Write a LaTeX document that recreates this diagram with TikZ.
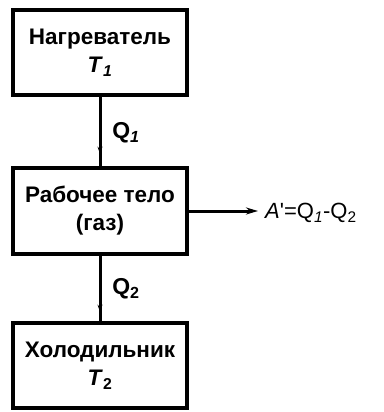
\documentclass[tikz,border=0pt]{standalone}
\usepackage{fontspec}
\setmainfont{Liberation Sans}
\usetikzlibrary{arrows.meta,decorations.markings}

\begin{document}
\begin{tikzpicture}[x=1pt,y=-1pt,
  block/.style={draw,line width=3.6pt,minimum width=174pt,minimum height=85pt,
    inner sep=0pt,align=center,font=\fontsize{22.5}{28}\selectfont\bfseries},
  flow/.style={line width=3pt,postaction={decorate},
    decoration={markings,mark=at position #1 with {\arrow{Stealth[length=7pt,width=5pt]}}}},
  lbl/.style={font=\fontsize{23}{26}\selectfont\bfseries},
  result/.style={font=\fontsize{22}{26}\selectfont,anchor=west,inner sep=0pt}]
\useasboundingbox (0,0) rectangle (383,412);

% reservoirs and working body
\node[block] (heater) at (100,52.5) {Нагреватель\\\textit{T}\textsubscript{\textit{1}}};
\node[block,minimum height=86pt] (body) at (100,211) {Рабочее тело\\(газ)};
\node[block] (cooler) at (100,365.5) {Холодильник\\\textit{T}\textsubscript{2}};

% heat flows
\draw[flow=0.82] (heater.south) -- (body.north);
\draw[flow=0.855] (body.south) -- (cooler.north);
\node[lbl] (q1) at (126,133) {Q\textsubscript{\textit{1}}};
\node[lbl] (q2) at (126,289) {Q\textsubscript{2}};

% work output
\coordinate (out) at (258,211);
\draw[line width=3pt,-{Stealth[length=12pt,width=7pt]}] (body.east) -- (out);
\node[result] (work) at (265,213) {\textit{A}\textquotesingle{}=Q\textsubscript{\textit{1}}-Q\textsubscript{2}};
\end{tikzpicture}
\end{document}
